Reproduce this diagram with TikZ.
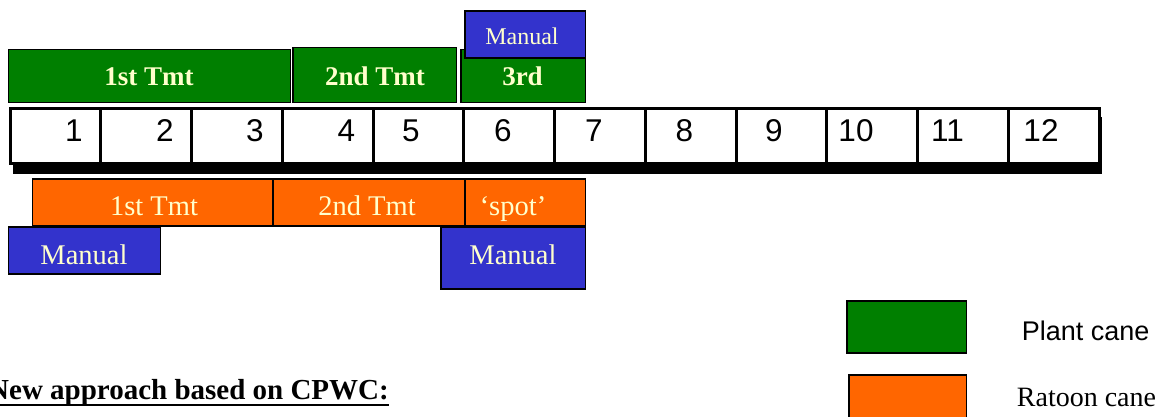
\documentclass[tikz,border=0pt]{standalone}
\usepackage{fontspec}
\setmainfont{Liberation Serif}
\newfontfamily\arialfont{Liberation Sans}
\usetikzlibrary{calc}
\definecolor{pgreen}{HTML}{007F00}
\definecolor{rorange}{HTML}{FF6600}
\definecolor{mblue}{HTML}{3333CC}
\definecolor{cream}{HTML}{FFFFCC}
\tikzset{
  box/.style={draw=black, line width=1.8pt, anchor=north west, inner sep=0pt, outer sep=0pt},
  gbox/.style={box, fill=pgreen},
  obox/.style={box, fill=rorange},
  bbox/.style={box, fill=mblue},
  cell/.style={draw=black, line width=3pt, fill=white, anchor=north west, inner sep=0pt, outer sep=0pt, minimum width=90.75pt, minimum height=55.5pt},
  gtext/.style={text=cream, font=\fontsize{27}{29}\selectfont\bfseries, anchor=base, inner sep=0pt},
  otext/.style={text=cream, font=\fontsize{28.5}{30}\selectfont, anchor=base, inner sep=0pt},
  dig/.style={text=black, font=\arialfont\fontsize{31.5}{33}\selectfont, anchor=base, inner sep=0pt},
}
\begin{document}
\begin{tikzpicture}[x=1pt,y=-1pt]
\useasboundingbox (0,0) rectangle (1165,417);

% green plant cane treatments
\node[gbox, minimum width=282pt, minimum height=53pt] (g1) at (8.5,49.5) {};
\node[gbox, minimum width=163.5pt, minimum height=55pt] (g2) at (293,47.5) {};
\node[gbox, minimum width=124.5pt, minimum height=53pt] (g3) at (461,49.5) {};
\node[bbox, minimum width=120.5pt, minimum height=47pt] (m1) at (465,11) {};
\node[gtext] (tg1) at (149,85.5) {1st Tmt};
\node[gtext] (tg2) at (375,85.5) {2nd Tmt};
\node[gtext] (tg3) at (522.5,85.5) {3rd};
\node[otext, font=\fontsize{24}{26}\selectfont] (tm1) at (522,45) {Manual};

% month table with shadow
\node[fill=black, anchor=north west, inner sep=0pt, outer sep=0pt, minimum width=1089pt, minimum height=57.5pt] (sh) at (12.5,117) {};
\foreach \i in {1,...,12} {
  \node[cell] (c\i) at ({10+90.75*(\i-1)},108.5) {};
}
\foreach \x/\d [count=\i] in {74/1,165/2,255/3,346.5/4,411/5,503/6,594/7,684.5/8,774/9,856/10,947.5/11,1041/12} {
  \node[dig] (d\i) at (\x,141.5) {\d};
}

% orange ratoon cane treatments
\node[obox, minimum width=240.5pt, minimum height=47pt] (o1) at (32.5,179) {};
\node[obox, minimum width=192pt, minimum height=47pt] (o2) at (273,179) {};
\node[obox, minimum width=120.5pt, minimum height=47pt] (o3) at (465,179) {};
\node[otext] (to1) at (154,215) {1st Tmt};
\node[otext] (to2) at (367,215) {2nd Tmt};
\node[otext] (to3) at (513,215) {‘spot’};

% manual boxes below
\node[bbox, minimum width=152pt, minimum height=47pt] (b1) at (8.5,227) {};
\node[bbox, minimum width=144.5pt, minimum height=62pt] (b2) at (441,227) {};
\node[otext] (tb1) at (84,264) {Manual};
\node[otext] (tb2) at (513,264) {Manual};

% legend
\node[gbox, minimum width=119.5pt, minimum height=52pt] (lg) at (847,301) {};
\node[obox, minimum width=117.5pt, minimum height=52pt] (lo) at (849,375) {};
\node[anchor=base west, inner sep=0pt, font=\arialfont\fontsize{27}{29}\selectfont] (tlg) at (1021.7,340) {Plant cane};
\node[anchor=base west, inner sep=0pt, font=\fontsize{28}{30}\selectfont] (tlo) at (1016.7,406.7) {Ratoon cane};

% heading
\node[anchor=base west, inner sep=0pt, font=\fontsize{29}{31}\selectfont\bfseries] (head) at (-12,399) {New approach based on CPWC:};
\draw[line width=2.5pt] ($(head.base west)+(0,6)$) -- ($(head.base east)+(0,6)$);
\end{tikzpicture}
\end{document}
